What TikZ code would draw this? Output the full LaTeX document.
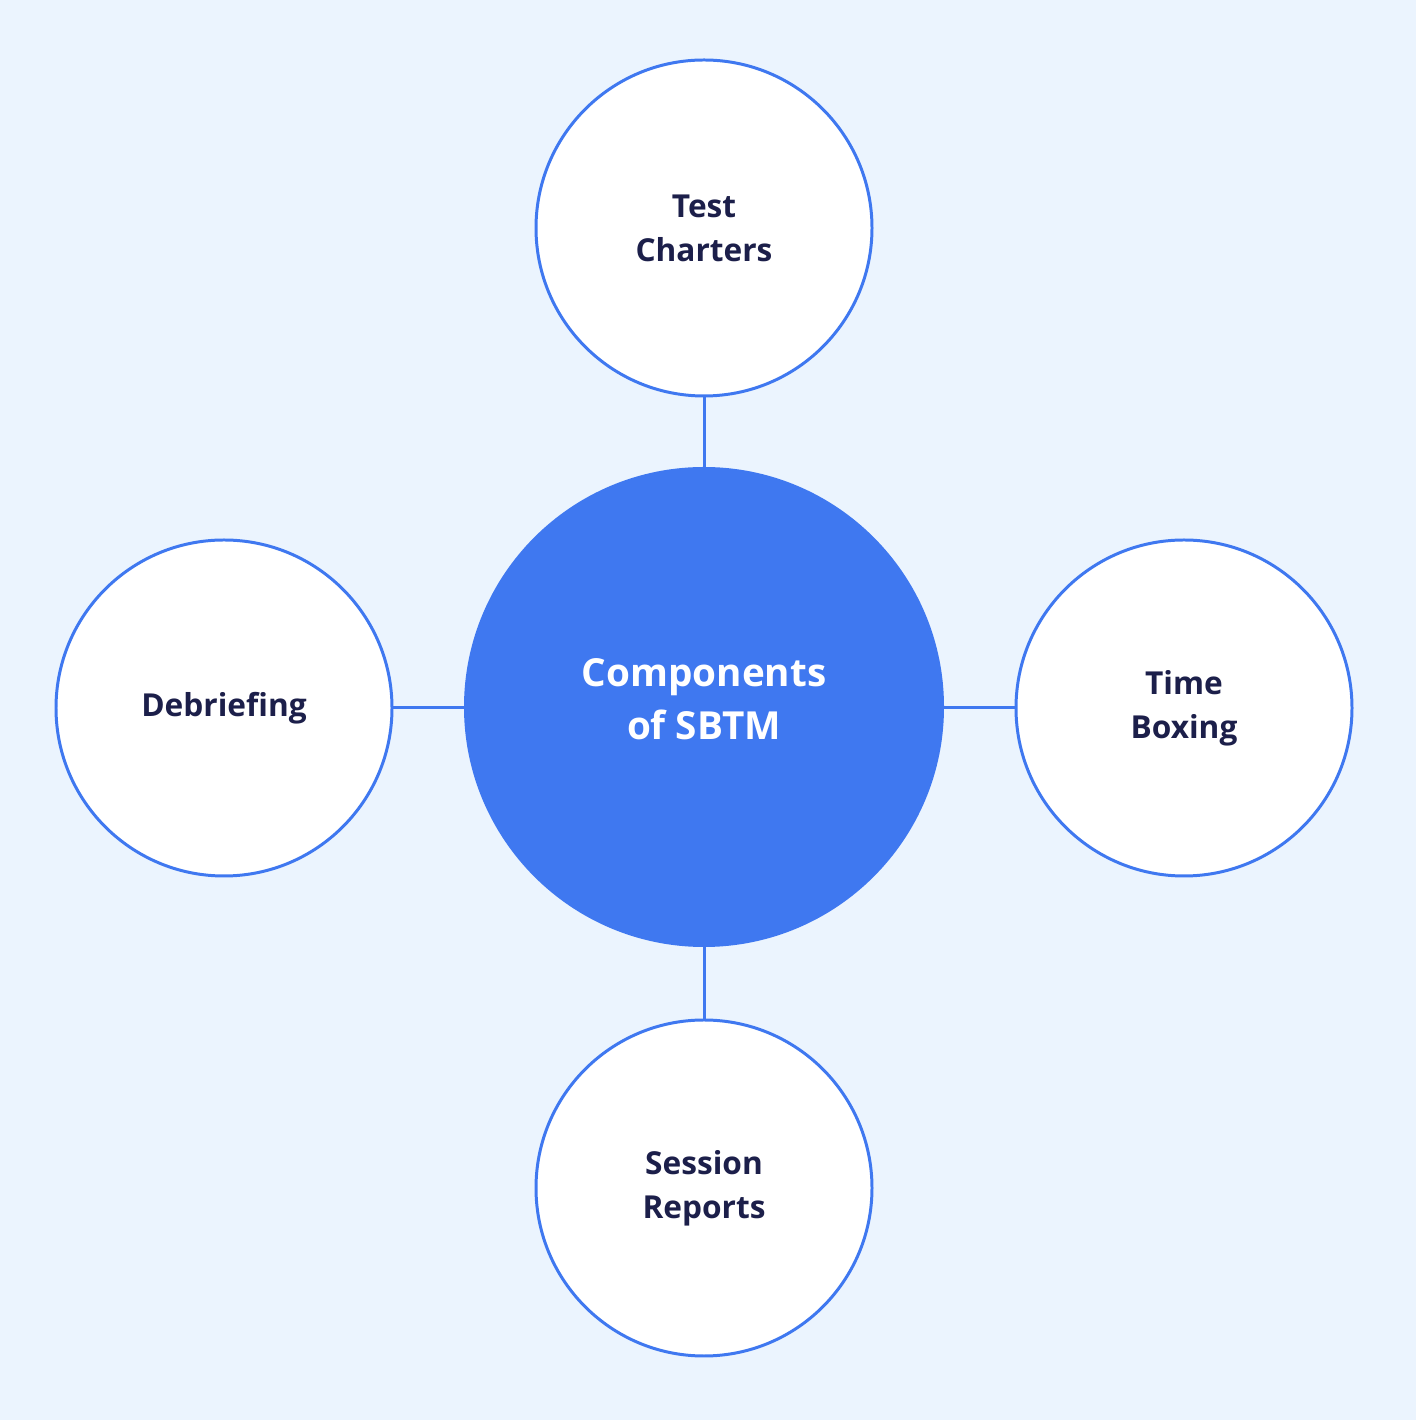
\documentclass[tikz,border=0pt]{standalone}
\usepackage{fontspec}
\setmainfont{Open Sans}
\usetikzlibrary{positioning}
\definecolor{bgblue}{HTML}{EBF4FE}
\definecolor{hubblue}{HTML}{3F78F0}
\definecolor{navy}{HTML}{1C1F4A}
\tikzset{
  part/.style={circle, draw=hubblue, line width=1.7pt, fill=white, minimum size=6.72cm,
    inner sep=0pt, align=center, text=navy, font=\fontsize{18}{25}\selectfont\bfseries},
  hub/.style={circle, fill=hubblue, minimum size=9.6cm, inner sep=0pt, align=center,
    text=white, font=\fontsize{22}{30}\selectfont\bfseries},
  link/.style={draw=hubblue, line width=1.7pt}
}
\begin{document}
\begin{tikzpicture}
  % fond
  \fill[bgblue] (0,0) rectangle (28.32,28.4);
  \useasboundingbox (0,0) rectangle (28.32,28.4);
  % noeud central
  \node[hub] (sbtm) at (14.08,14.26) {};
  \node[text=white, align=center, font=\fontsize{22}{30}\selectfont\bfseries] (sbtmtext)
    at ([yshift=0.15cm]sbtm.center) {Components\\of SBTM};
  % composantes
  \node[part] (charters) at (14.08,23.84) {Test\\Charters};
  \node[part] (reports) at (14.08,4.64) {Session\\Reports};
  \node[part] (debrief) at (4.48,14.24) {Debriefing};
  \node[part] (boxing) at (23.68,14.24) {Time\\Boxing};
  % liens
  \draw[link] (sbtm) -- (charters);
  \draw[link] (sbtm) -- (reports);
  \draw[link] (sbtm.west |- debrief) -- (debrief);
  \draw[link] (sbtm.east |- boxing) -- (boxing);
\end{tikzpicture}
\end{document}
